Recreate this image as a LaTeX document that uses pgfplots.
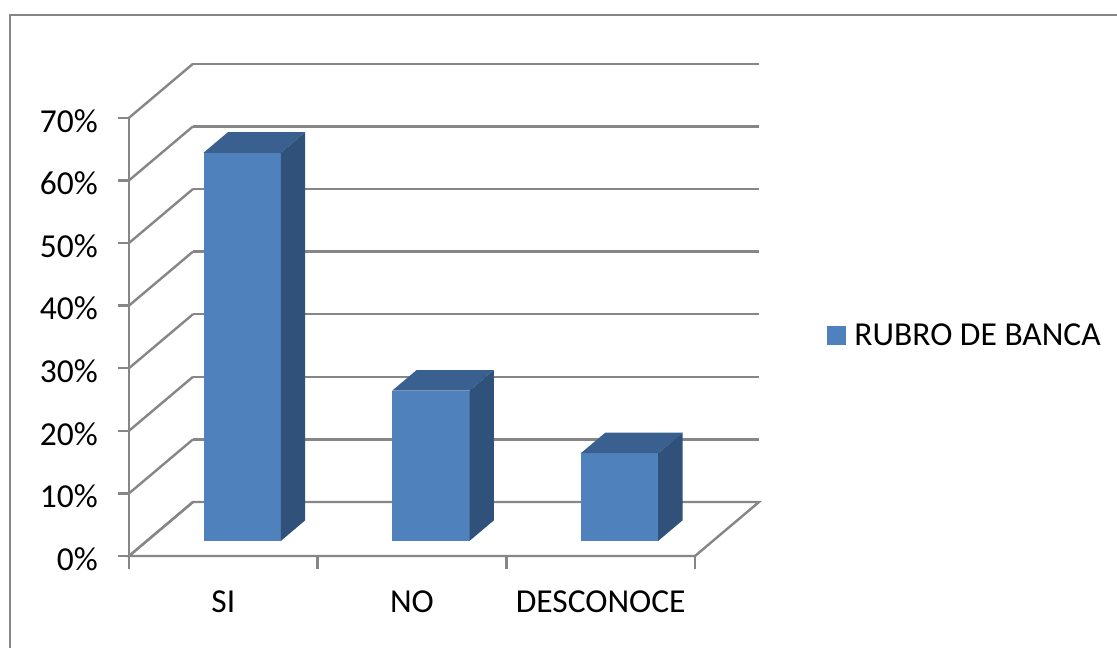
\documentclass[border=0pt]{standalone}
\usepackage{pgfplots}
\pgfplotsset{compat=1.18}
\usepackage{fontspec}
\setmainfont{Carlito}
\definecolor{barfront}{RGB}{79,129,189}
\definecolor{bartop}{RGB}{58,96,143}
\definecolor{barside}{RGB}{48,81,122}
\definecolor{gridgray}{RGB}{134,134,134}
\newcommand\chartfont{\fontsize{33.5}{40}\selectfont}
\begin{document}
\begin{tikzpicture}[x=1pt,y=1pt]
\begin{axis}[
  x={(188.67pt,0pt)}, y={(64pt,54pt)}, z={(0pt,6.26pt)},
  xmin=0, xmax=3, ymin=0, ymax=1, zmin=0, zmax=70,
  clip=false,
  axis line style={draw=none},
  major tick length=0pt,
  xtick={0,1,2,3},
  x tick label as interval,
  xticklabels={SI,NO,DESCONOCE},
  ytick=\empty,
  ztick={0,10,20,30,40,50,60,70},
  zticklabels={0\%,10\%,20\%,30\%,40\%,50\%,60\%,70\%},
  zmajorgrids=true,
  grid style={gridgray, line width=2.4pt},
  xticklabel style={font=\chartfont, anchor=base, inner sep=0pt, yshift=-56pt},
  zticklabel style={font=\chartfont, anchor=east, inner sep=0pt, xshift=-31pt, yshift=-3pt},
  legend style={draw=none, fill=none, font=\chartfont,
    at={(axis description cs:1.108,0.449)}, anchor=west,
    inner sep=0pt, outer sep=0pt, column sep=7pt},
]
\coordinate (O) at (axis cs:0,0,0);
% floor outline, front axis line and tick marks
\draw[gridgray, line width=2.4pt] (axis cs:0,1,0) -- (axis cs:0,0,0) -- (axis cs:3,0,0) -- (axis cs:3,1,0) -- cycle;
\draw[gridgray, line width=2.4pt] (axis cs:0,0,70) -- (axis cs:0,0,-2);
\pgfplotsinvokeforeach{1,2,3}{\draw[gridgray, line width=2.4pt] (axis cs:#1,0,0) -- (axis cs:#1,0,-2);}
\pgfplotsinvokeforeach{0,10,...,70}{\draw[gridgray, line width=2.4pt] (axis cs:0,0,#1) -- (axis cs:-0.058,0,#1);}

% SI: 62
\addplot3[draw=none, fill=barfront, forget plot] coordinates {(0.30,0.28,0) (0.71,0.28,0) (0.71,0.28,62) (0.30,0.28,62)} -- cycle;
\addplot3[draw=none, fill=bartop, forget plot] coordinates {(0.30,0.28,62) (0.71,0.28,62) (0.71,0.66,62) (0.30,0.66,62)} -- cycle;
\addplot3[draw=none, fill=barside, forget plot] coordinates {(0.71,0.28,0) (0.71,0.66,0) (0.71,0.66,62) (0.71,0.28,62)} -- cycle;
% NO: 24
\addplot3[draw=none, fill=barfront, forget plot] coordinates {(1.30,0.28,0) (1.71,0.28,0) (1.71,0.28,24) (1.30,0.28,24)} -- cycle;
\addplot3[draw=none, fill=bartop, forget plot] coordinates {(1.30,0.28,24) (1.71,0.28,24) (1.71,0.66,24) (1.30,0.66,24)} -- cycle;
\addplot3[draw=none, fill=barside, forget plot] coordinates {(1.71,0.28,0) (1.71,0.66,0) (1.71,0.66,24) (1.71,0.28,24)} -- cycle;
% DESCONOCE: 14
\addplot3[draw=none, fill=barfront, forget plot] coordinates {(2.30,0.28,0) (2.71,0.28,0) (2.71,0.28,14) (2.30,0.28,14)} -- cycle;
\addplot3[draw=none, fill=bartop, forget plot] coordinates {(2.30,0.28,14) (2.71,0.28,14) (2.71,0.66,14) (2.30,0.66,14)} -- cycle;
\addplot3[draw=none, fill=barside, forget plot] coordinates {(2.71,0.28,0) (2.71,0.66,0) (2.71,0.66,14) (2.71,0.28,14)} -- cycle;

\addlegendimage{legend image code/.code={\fill[barfront] (0pt,-9pt) rectangle (18pt,9pt);}}
\addlegendentry{RUBRO DE BANCA}
\end{axis}
% page area and chart frame, placed from the plot's origin
\pgfresetboundingbox
\path[use as bounding box] ([shift={(-129,556)}]O) rectangle ([shift={(988,-92)}]O);
\draw[gridgray, line width=2.4pt] ([shift={(-119,-96)}]O) -- ([shift={(-119,541)}]O) -- ([shift={(992,541)}]O);
\end{tikzpicture}
\end{document}
